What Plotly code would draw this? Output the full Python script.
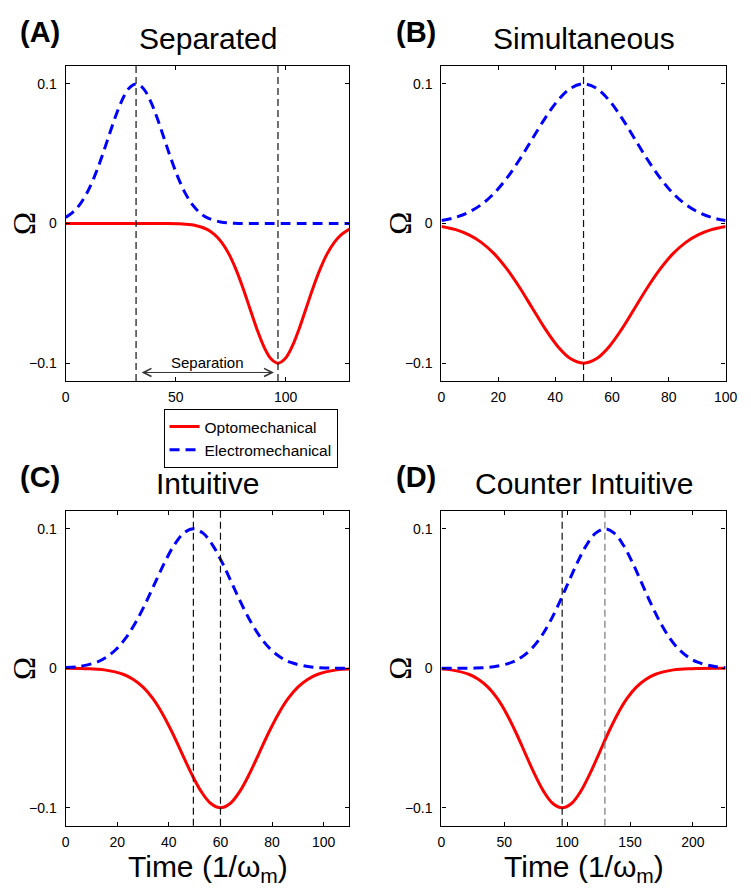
import plotly.graph_objects as go

# ---- pulse data (time in 1/omega_m, amplitude Omega) ----
# (A) Separated
a_t_elec = [0, 3.2, 6.4, 9.6, 12.8, 16, 19.2, 22.4, 25.6, 28.8, 32, 35.2, 38.4, 41.6, 44.8, 48,
            51.2, 54.4, 57.6, 60.8, 64, 70.4, 76.8, 83.2, 100, 129]
a_elec = [0.0044, 0.008, 0.0135, 0.0216, 0.0325, 0.0458, 0.0607, 0.0755, 0.0882, 0.0969, 0.1,
          0.0969, 0.0882, 0.0755, 0.0607, 0.0458, 0.0325, 0.0216, 0.0135, 0.008, 0.0044,
          0.0011, 0.0002, 0, 0, 0]
a_t_opto = [0, 40, 45.3, 51.7, 58.1, 64.5, 67.7, 70.9, 74.1, 77.3, 80.5, 83.7, 86.9, 90.1, 93.3,
            96.5, 99.7, 102.9, 106.1, 109.3, 112.5, 115.7, 118.9, 122.1, 125.3, 129]
a_opto = [0, 0, 0, -0.0002, -0.0011, -0.0044, -0.008, -0.0135, -0.0216, -0.0325, -0.0458, -0.0607,
          -0.0755, -0.0882, -0.0969, -0.1, -0.0969, -0.0882, -0.0755, -0.0607, -0.0458, -0.0325,
          -0.0216, -0.0135, -0.008, -0.004]

# (B) Simultaneous
b_t = [0, 5, 9.5, 14, 18.5, 23, 27.5, 32, 36.5, 41, 45.5, 50, 54.5, 59, 63.5, 68, 72.5, 77,
       81.5, 86, 90.5, 95, 100]
b_elec = [0.0021, 0.0044, 0.008, 0.0135, 0.0216, 0.0325, 0.0458, 0.0607, 0.0755, 0.0882, 0.0969,
          0.1, 0.0969, 0.0882, 0.0755, 0.0607, 0.0458, 0.0325, 0.0216, 0.0135, 0.008, 0.0044, 0.0021]
b_opto = [-0.0021, -0.0044, -0.008, -0.0135, -0.0216, -0.0325, -0.0458, -0.0607, -0.0755, -0.0882,
          -0.0969, -0.1, -0.0969, -0.0882, -0.0755, -0.0607, -0.0458, -0.0325, -0.0216, -0.0135,
          -0.008, -0.0044, -0.0021]

# (C) Intuitive
c_t_elec = [0, 4.5, 12, 15.75, 19.5, 23.25, 27, 30.75, 34.5, 38.25, 42, 45.75, 49.5, 53.25, 57,
            60.75, 64.5, 68.25, 72, 75.75, 79.5, 83.25, 87, 94.5, 102, 110]
c_elec = [0.0006, 0.0011, 0.0044, 0.008, 0.0135, 0.0216, 0.0325, 0.0458, 0.0607, 0.0755, 0.0882,
          0.0969, 0.1, 0.0969, 0.0882, 0.0755, 0.0607, 0.0458, 0.0325, 0.0216, 0.0135, 0.008,
          0.0044, 0.0011, 0.0002, 0]
c_t_opto = [0, 7.5, 15, 22.5, 26.25, 30, 33.75, 37.5, 41.25, 45, 48.75, 52.5, 56.25, 60, 63.75,
            67.5, 71.25, 75, 78.75, 82.5, 86.25, 90, 93.75, 97.5, 105, 110]
c_opto = [0, -0.0002, -0.0011, -0.0044, -0.008, -0.0135, -0.0216, -0.0325, -0.0458, -0.0607,
          -0.0755, -0.0882, -0.0969, -0.1, -0.0969, -0.0882, -0.0755, -0.0607, -0.0458, -0.0325,
          -0.0216, -0.0135, -0.008, -0.0044, -0.0011, -0.0004]

# (D) Counter Intuitive
d_t_elec = [0, 12, 26.75, 41.5, 56.25, 63.6, 71, 78.4, 85.75, 93.1, 100.5, 107.9, 115.25, 122.6,
            130, 137.4, 144.75, 152.1, 159.5, 166.9, 174.25, 181.6, 189, 196.4, 203.75, 218.5, 226]
d_elec = [0, 0, 0.0002, 0.0011, 0.0044, 0.008, 0.0135, 0.0216, 0.0325, 0.0458, 0.0607, 0.0755,
          0.0882, 0.0969, 0.1, 0.0969, 0.0882, 0.0755, 0.0607, 0.0458, 0.0325, 0.0216, 0.0135,
          0.008, 0.0044, 0.0011, 0.0005]
d_t_opto = [0, 7.5, 22.25, 29.6, 37, 44.4, 51.75, 59.1, 66.5, 73.9, 81.25, 88.6, 96, 103.4,
            110.75, 118.1, 125.5, 132.9, 140.25, 147.6, 155, 162.4, 169.75, 184.5, 199.25, 226]
d_opto = [-0.0005, -0.0011, -0.0044, -0.008, -0.0135, -0.0216, -0.0325, -0.0458, -0.0607, -0.0755,
          -0.0882, -0.0969, -0.1, -0.0969, -0.0882, -0.0755, -0.0607, -0.0458, -0.0325, -0.0216,
          -0.0135, -0.008, -0.0044, -0.0011, -0.0002, 0]

# pulse centre markers per panel
a_marks = [32, 96.5]
b_marks = [50]
c_marks = [49.5, 60]
d_marks = [96, 130]

panel_titles = ["Separated", "Simultaneous", "Intuitive", "Counter Intuitive"]
panel_letters = ["(A)", "(B)", "(C)", "(D)"]
x_ranges = [[0, 129], [0, 100], [0, 110], [0, 226]]
x_ticks = [[0, 50, 100], [0, 20, 40, 60, 80, 100], [0, 20, 40, 60, 80, 100], [0, 50, 100, 150, 200]]
y_ticks = [-0.1, 0, 0.1]
y_ticktext = ["\u22120.1", "0", "0.1"]

W, H = 751, 890
SANS = "Liberation Sans, Arial, sans-serif"
SERIF = "Liberation Serif, Times New Roman, serif"
RED = "#FF0000"
BLUE = "#0000FF"

# axes boxes in pixels: (left, right, top, bottom)
boxes = [(63, 353, 66, 381), (447, 737.3, 66, 381),
         (63, 353, 511, 825.7), (447, 737.3, 511, 825.7)]

elec = [(a_t_elec, a_elec), (b_t, b_elec), (c_t_elec, c_elec), (d_t_elec, d_elec)]
opto = [(a_t_opto, a_opto), (b_t, b_opto), (c_t_opto, c_opto), (d_t_opto, d_opto)]
marks = [a_marks, b_marks, c_marks, d_marks]

fig = go.Figure()
layout = {}
annotations = []
shapes = []

for i in range(4):
    n = "" if i == 0 else str(i + 1)
    xa, ya = "x" + n, "y" + n
    l, r, t, b = boxes[i]
    common = dict(showline=True, linecolor="black", linewidth=1.3, mirror="allticks",
                  ticks="inside", ticklen=4, tickwidth=1, tickcolor="black",
                  showgrid=False, zeroline=False,
                  tickfont=dict(family=SANS, size=14, color="black"))
    layout["xaxis" + n] = dict(domain=[l / W, r / W], range=x_ranges[i], anchor=ya,
                               tickvals=x_ticks[i], ticklabelstandoff=3, **common)
    layout["yaxis" + n] = dict(domain=[1 - b / H, 1 - t / H], range=[-0.1128, 0.1128], anchor=xa,
                               tickvals=y_ticks, ticktext=y_ticktext, ticklabelstandoff=5, **common)

    fig.add_trace(go.Scatter(x=opto[i][0], y=opto[i][1], mode="lines", xaxis=xa, yaxis=ya,
                             line=dict(color=RED, width=3, shape="spline"),
                             name="Optomechanical", showlegend=(i == 0)))
    fig.add_trace(go.Scatter(x=elec[i][0], y=elec[i][1], mode="lines", xaxis=xa, yaxis=ya,
                             line=dict(color=BLUE, width=3, dash="10px,6px", shape="spline"),
                             name="Electromechanical", showlegend=(i == 0)))

    for j, m in enumerate(marks[i]):
        col = "#777777" if (i == 3 and j == 1) else "#111111"
        shapes.append(dict(type="line", xref=xa, yref=ya + " domain", x0=m, x1=m, y0=0, y1=1,
                           line=dict(color=col, width=1.2, dash="7px,4px"), layer="above"))

    cx = (l + r) / 2
    annotations.append(dict(text=panel_titles[i], xref="paper", yref="paper",
                            x=cx / W, y=1 - (t - 27) / H, xanchor="center", yanchor="middle",
                            showarrow=False, font=dict(family=SANS, size=30, color="black")))
    annotations.append(dict(text="<b>" + panel_letters[i] + "</b>", xref="paper", yref="paper",
                            x=(l - 26) / W, y=1 - (t - 34) / H, xanchor="center", yanchor="middle",
                            showarrow=False, font=dict(family=SANS, size=29, color="black")))
    annotations.append(dict(text="\u03a9", xref="paper", yref=ya + " domain",
                            x=(l - 42) / W, y=0.5, xanchor="center", yanchor="middle",
                            textangle=-90, showarrow=False,
                            font=dict(family=SERIF, size=31, color="black")))
    if i >= 2:
        annotations.append(dict(text="Time (1/\u03c9<sub>m</sub>)", xref="paper", yref="paper",
                                x=cx / W, y=1 - (b + 43) / H, xanchor="center", yanchor="middle",
                                showarrow=False, font=dict(family=SANS, size=30, color="black")))

# separation arrow between the two pulse centres in (A)
annotations.append(dict(x=a_marks[1], y=-0.1067, ax=a_marks[0], ay=-0.1067, xref="x", yref="y",
                        axref="x", ayref="y", text="", showarrow=True, arrowside="end+start",
                        arrowhead=5, startarrowhead=5, arrowsize=1.6, startarrowsize=1.6,
                        arrowwidth=1, arrowcolor="#333333", standoff=4, startstandoff=4))
annotations.append(dict(x=(a_marks[0] + a_marks[1]) / 2, y=-0.0996, xref="x", yref="y",
                        text="Separation", showarrow=False, xanchor="center", yanchor="middle",
                        font=dict(family=SANS, size=15, color="black")))

fig.update_layout(
    width=W, height=H, margin=dict(l=0, r=0, t=0, b=0),
    paper_bgcolor="white", plot_bgcolor="white",
    annotations=annotations, shapes=shapes,
    legend=dict(x=163 / W, y=1 - 409 / H, xanchor="left", yanchor="top",
                bgcolor="white", bordercolor="black", borderwidth=1,
                font=dict(family=SANS, size=15.5, color="black"),
                tracegroupgap=0, itemwidth=30),
    **layout,
)

fig.write_html("out.html")
